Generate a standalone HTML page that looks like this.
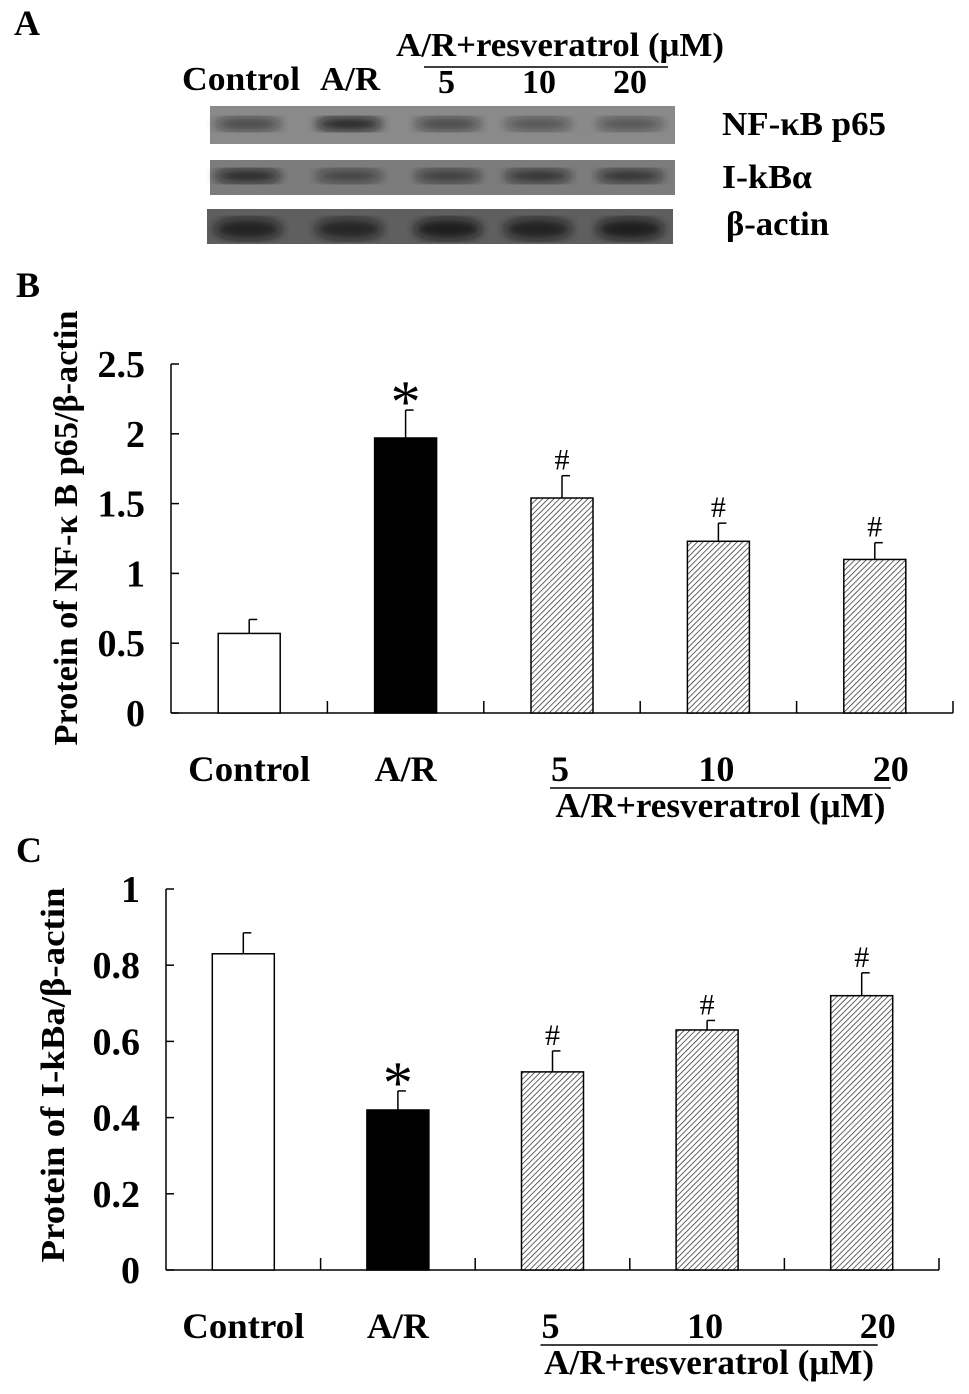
<!DOCTYPE html>
<html><head><meta charset="utf-8"><style>
html,body{margin:0;padding:0;background:#fff;}
svg{display:block;font-family:"Liberation Serif",serif;font-weight:bold;}
</style></head><body>
<svg id="fig" width="969" height="1394" viewBox="0 0 969 1394" xmlns="http://www.w3.org/2000/svg">
<defs>
<pattern id="hatch" patternUnits="userSpaceOnUse" width="4" height="4" patternTransform="rotate(45)">
<rect width="4" height="4" fill="#fff"/><line x1="0" y1="0" x2="0" y2="4" stroke="#222" stroke-width="1.4"/>
</pattern>
<filter id="blur"><feGaussianBlur stdDeviation="5"/></filter>
</defs>
<g>
<text x="14" y="35" font-size="36">A</text>
<text x="396" y="56" font-size="34" textLength="328" lengthAdjust="spacingAndGlyphs">A/R+resveratrol (μM)</text>
<line x1="424" y1="67" x2="668" y2="67" stroke="#000" stroke-width="1.5"/>
<text x="182" y="90" font-size="34" textLength="118" lengthAdjust="spacingAndGlyphs">Control</text>
<text x="320" y="90" font-size="34" textLength="60" lengthAdjust="spacingAndGlyphs">A/R</text>
<text x="438" y="93" font-size="34">5</text>
<text x="522" y="93" font-size="34">10</text>
<text x="613" y="93" font-size="34">20</text>
<g id="blots"></g>
<text x="722" y="135" font-size="34" textLength="164" lengthAdjust="spacingAndGlyphs">NF-κB p65</text>
<text x="722" y="188" font-size="34" textLength="90" lengthAdjust="spacingAndGlyphs">I-kBα</text>
<text x="726" y="235" font-size="34" textLength="103" lengthAdjust="spacingAndGlyphs">β-actin</text>
</g>
<g id="chartB"></g>
<g id="chartC"></g>
</svg>
<script>
const categories = ["Control","A/R","5","10","20"];
const bValues = [0.57,1.97,1.54,1.23,1.10];
const bErrors = [0.10,0.20,0.16,0.13,0.12];
const bMarks = ["","*","#","#","#"];
const bTicks = [0,0.5,1,1.5,2,2.5];
const cValues = [0.83,0.42,0.52,0.63,0.72];
const cErrors = [0.055,0.05,0.055,0.025,0.06];
const cMarks = ["","*","#","#","#"];
const cTicks = [0,0.2,0.4,0.6,0.8,1];
const fills = ["#fff","#000","url(#hatch)","url(#hatch)","url(#hatch)"];
const blotRows = [
 {y:106,h:38,bg:"#8a8a8a",band:[0.55,0.85,0.55,0.45,0.45],by:124},
 {y:160,h:35,bg:"#7c7c7c",band:[0.8,0.55,0.6,0.7,0.7],by:176},
 {y:209,h:35,bg:"#5f5f5f",band:[0.75,0.7,0.8,0.75,0.8],by:229}
];
const NS="http://www.w3.org/2000/svg";
function mk(parent,tag,attrs){const e=document.createElementNS(NS,tag);for(const k in attrs)e.setAttribute(k,attrs[k]);parent.appendChild(e);return e;}

const bl=document.getElementById('blots');
const laneX=[248,349,448,538,630];
blotRows.forEach((r,ri)=>{
 const x0=ri==2?207:210, x1=ri==2?673:675;
 const g=mk(bl,'g',{});
 
 
 mk(g,'rect',{x:x0,y:r.y,width:x1-x0,height:r.h,fill:r.bg});
 r.band.forEach((v,i)=>{
  const e=mk(g,'ellipse',{cx:laneX[i],cy:r.by,rx:34,ry:ri==2?11:7,fill:'#111',opacity:v,filter:'url(#blur)'});
  
  
 });
});

function chart(id,o){
 const g=document.getElementById(id);
 const y=v=>o.y0-(v/o.max)*(o.y0-o.yTop);
 const cw=(o.x1-o.x0)/categories.length;
 const xc=i=>o.x0+cw*(i+0.5);
 mk(g,'text',{x:o.lx,y:o.ly,'font-size':36}).textContent=o.label;
 mk(g,'line',{x1:o.x0,y1:o.yTop,x2:o.x0,y2:o.y0,stroke:'#000','stroke-width':1.5});
 mk(g,'line',{x1:o.x0,y1:o.y0,x2:o.x1,y2:o.y0,stroke:'#000','stroke-width':1.5});
 o.ticks.forEach(t=>{
  mk(g,'line',{x1:o.x0,y1:y(t),x2:o.x0+8,y2:y(t),stroke:'#000','stroke-width':1.5});
  const tx=mk(g,'text',{x:o.x0-26,y:y(t)+13,'font-size':38,'text-anchor':'end'});
  tx.textContent=String(t);
  
  
 });
 for(let i=1;i<=categories.length;i++){
  const xx=o.x0+cw*i;
  mk(g,'line',{x1:xx,y1:o.y0,x2:xx,y2:o.y0-12,stroke:'#000','stroke-width':1.5});
 }
 o.values.forEach((v,i)=>{
  const bw=62, cx=xc(i);
  const et=y(v+o.errors[i]);
  const eb=mk(g,'line',{x1:cx,y1:et,x2:cx,y2:y(v),stroke:'#000','stroke-width':1.5});
  
  
  mk(g,'line',{x1:cx,y1:et,x2:cx+8,y2:et,stroke:'#000','stroke-width':1.5});
  const r=mk(g,'rect',{x:cx-bw/2,y:y(v),width:bw,height:o.y0-y(v),fill:fills[i],stroke:'#000','stroke-width':1.5});
  
  
  if(o.marks[i]){
   const star=o.marks[i]=='*';
   const m=mk(g,'text',{x:cx,y:et-(star?-12:6),'font-size':star?60:30,'font-weight':'normal','text-anchor':'middle'});
   m.textContent=o.marks[i];
   
   
  }
  const lb=mk(g,'text',{x:cx+(i>=2?(i==2?-2:i==3?-2:16):0),y:o.y0+68,'font-size':36,'text-anchor':'middle'});
  if(i==0){lb.setAttribute('textLength','122');lb.setAttribute('lengthAdjust','spacingAndGlyphs');}
  lb.textContent=categories[i];
  
  
 });
 const l1=xc(2)-12, l2=xc(4)+16;
 mk(g,'line',{x1:l1,y1:o.y0+75,x2:l2,y2:o.y0+75,stroke:'#000','stroke-width':1.5});
 const gt=mk(g,'text',{x:(l1+l2)/2,y:o.y0+104,'font-size':35,'text-anchor':'middle',textLength:330,lengthAdjust:'spacingAndGlyphs'});
 gt.textContent='A/R+resveratrol (μM)';
 
 
 const at=mk(g,'text',{transform:`translate(${o.ax},${o.tc}) rotate(-90)`,'font-size':34,'text-anchor':'middle',textLength:o.tl,lengthAdjust:'spacingAndGlyphs'});
 at.textContent=o.title;
 
 
}
chart('chartB',{x0:171,x1:953,y0:713,yTop:364,max:2.5,values:bValues,errors:bErrors,marks:bMarks,ticks:bTicks,label:'B',lx:16,ly:297,ax:77,tc:528,tl:435,title:'Protein of NF-κ B p65/β-actin'});
chart('chartC',{x0:166,x1:939,y0:1270,yTop:889,max:1,values:cValues,errors:cErrors,marks:cMarks,ticks:cTicks,label:'C',lx:16,ly:862,ax:64,tc:1075,tl:375,title:'Protein of I-kBa/β-actin'});
</script>
</body></html>
